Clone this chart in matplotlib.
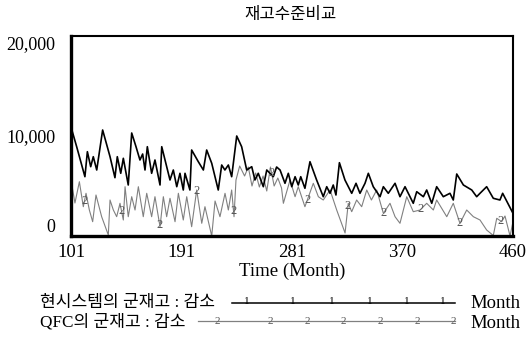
import numpy as np
import matplotlib
matplotlib.use("Agg")
import matplotlib.pyplot as plt
from matplotlib.lines import Line2D

plt.rcParams['font.family'] = ['Liberation Serif', 'Noto Sans CJK KR']

# 현시스템의 군재고 (꼭짓점: 월, 재고)
m1 = [101, 105.6, 112.3, 114.3, 117, 119.1, 121.9, 126.7, 132.7, 136.7, 138.6, 141.4,
      143.5, 147.5, 150.3, 153.8, 157, 159.2, 161.1, 163, 166.5, 169.2, 173.3, 174.7,
      181.4, 184.1, 186.9, 189.5, 192.2, 193.6, 197.6, 199, 204.4, 208.5, 211.2, 215.3,
      220.6, 223.4, 226, 228.8, 231.5, 235.6, 239.6, 243.7, 247.8, 250.4, 253.1, 257.2,
      260, 265.3, 268, 270.8, 274.8, 277.5, 280.3, 283, 285.6, 287.6, 291, 295.1,
      300.5, 305.9, 308.7, 311.4, 314, 316.2, 319, 323.5, 329, 332.5, 335.7, 339.8,
      342.5, 346.5, 352, 354.7, 358.7, 364.2, 368.2, 372.3, 379, 381.8, 387.2, 389.9,
      394, 398, 403.4, 408.8, 411.5, 414.3, 419.7, 426.5, 430.5, 433.2, 438.6, 444,
      449.4, 451.6, 460]
v1 = [10900, 8930, 5930, 8430, 6930, 7930, 6600, 10600, 7930, 5830, 7930, 6270,
      7770, 5100, 10300, 8930, 7600, 8200, 6600, 8930, 6270, 7600, 5100, 8930,
      5600, 6600, 4930, 6270, 4600, 6270, 4600, 8600, 7430, 6600, 8600, 7270,
      4600, 7100, 6600, 7100, 5930, 10000, 8930, 6600, 6930, 5600, 6270, 4930,
      6600, 5930, 6900, 6600, 5270, 6270, 4930, 5930, 5100, 5930, 4770, 7430,
      5600, 3930, 4930, 4270, 5100, 4100, 7330, 5600, 4270, 5270, 4270, 5270,
      6270, 4930, 3930, 4930, 4270, 5270, 3930, 4930, 3270, 4430, 3930, 4600,
      3270, 4930, 3930, 4270, 3600, 6200, 5100, 4600, 3930, 4270, 4930, 3770,
      3600, 4270, 2270]

# QFC의 군재고
m2 = [101, 104.2, 107.8, 111, 113.2, 115.9, 118.6, 121.3, 125.9, 131.3, 132.7, 135.4,
      138.1, 140.8, 143.5, 144.9, 147.5, 150.3, 153, 155.7, 159.7, 162.5, 166.5, 169.2,
      173.3, 176, 178.7, 181.4, 185.5, 188.2, 192.2, 195, 199, 203.1, 207.2, 209.8,
      215.3, 218, 222, 226.1, 228.8, 231.5, 233.4, 235, 238, 242, 245, 248,
      251, 254, 257, 260, 263, 266, 269, 272, 273.5, 278.9, 283, 285.6,
      291, 297.8, 301.9, 305.9, 311.4, 316.8, 323.6, 326.2, 329, 333, 337.1, 341.2,
      345, 349.3, 354.7, 360.1, 364.2, 368.2, 373.7, 379, 384.5, 389.9, 395.3, 398,
      406.2, 411.5, 416.9, 422.4, 427.8, 433.2, 438.6, 444, 446.8, 450.8, 453.5, 457.6,
      460]
v2 = [5600, 3300, 5430, 2930, 4270, 2600, 1430, 4100, 1930, 100, 3600, 2600,
      1930, 3270, 1600, 4930, 1930, 3930, 2600, 4930, 1930, 4270, 1930, 3930,
      930, 3930, 1930, 3770, 1430, 4270, 1600, 3930, 930, 4600, 1270, 2930,
      0, 3500, 1930, 4270, 2600, 4600, 1930, 5600, 7000, 6000, 6900, 5000,
      6300, 4900, 6000, 4500, 6900, 5000, 5800, 4800, 3270, 5600, 3930, 4930,
      2930, 5270, 3930, 3600, 4600, 2600, 300, 3270, 2430, 3600, 2930, 4600,
      3600, 4600, 2270, 3270, 1930, 1270, 3930, 2430, 2600, 3270, 2600, 3600,
      1930, 3270, 1270, 2600, 1930, 1600, 600, 50, 1770, 1430, 2000, 0,
      1430]

marker2_months = [112, 142, 173, 203, 233, 264, 293, 326, 355, 385, 417, 450]

xticks = [101, 191, 281, 370, 460]
yticks = [0, 10000, 20000]
ytick_labels = ['0', '10,000', '20,000']

W, H = 526, 351
fig = plt.figure(figsize=(W / 100, H / 100), dpi=100)
ax = fig.add_axes([71 / W, 1 - 236 / H, 442 / W, 200 / H])

ax.plot(m2, v2, color='#808080', lw=0.8)
ax.plot(m1, v1, color='black', lw=1.2)
for m in marker2_months:
    ax.text(m, np.interp(m, m2, v2), '2', fontsize=9, color='#555555',
            ha='center', va='center')

ax.set_xlim(101, 460)
ax.set_ylim(0, 20000)
ax.set_xticks(xticks)
ax.set_xticklabels([str(t) for t in xticks], fontsize=13.5)
ax.set_yticks(yticks)
ax.set_yticklabels(ytick_labels, fontsize=13)
ax.tick_params(axis='x', length=0, pad=6)
ax.tick_params(axis='y', length=0, pad=11)
ylabels = ax.get_yticklabels()
ylabels[0].set_va('bottom')
ylabels[-1].set_va('top')
for side, w in (('left', 2.4), ('bottom', 2.4), ('top', 1.5), ('right', 1.5)):
    ax.spines[side].set_linewidth(w)
ax.set_xlabel('Time (Month)', fontsize=13.5, labelpad=1)

fig.text(290 / W, 1 - 15 / H, '재고수준비교', fontsize=12, ha='center', va='center')

# 범례
def fx(px):
    return px / W

def fy(py):
    return 1 - py / H

fig.text(fx(40), fy(303), '현시스템의 군재고 : 감소', fontsize=12.3, va='center')
fig.text(fx(40), fy(322), 'QFC의 군재고 : 감소', fontsize=12.3, va='center')
fig.text(fx(470), fy(303), 'Month', fontsize=13.5, va='center')
fig.text(fx(470), fy(323), 'Month', fontsize=13.5, va='center')
fig.add_artist(Line2D([fx(232), fx(455)], [fy(303), fy(303)], color='black', lw=1.1))
fig.add_artist(Line2D([fx(198), fx(455)], [fy(321), fy(321)], color='#808080', lw=0.9))
for px in [247, 293, 332, 370, 407, 443]:
    fig.text(fx(px), fy(302), '1', fontsize=8, ha='center', va='center')
for px in [217, 270, 307, 343, 380, 417, 453]:
    fig.text(fx(px), fy(321), '2', fontsize=8, ha='center', va='center', color='#555555')

fig.savefig('out.png', dpi=100)
